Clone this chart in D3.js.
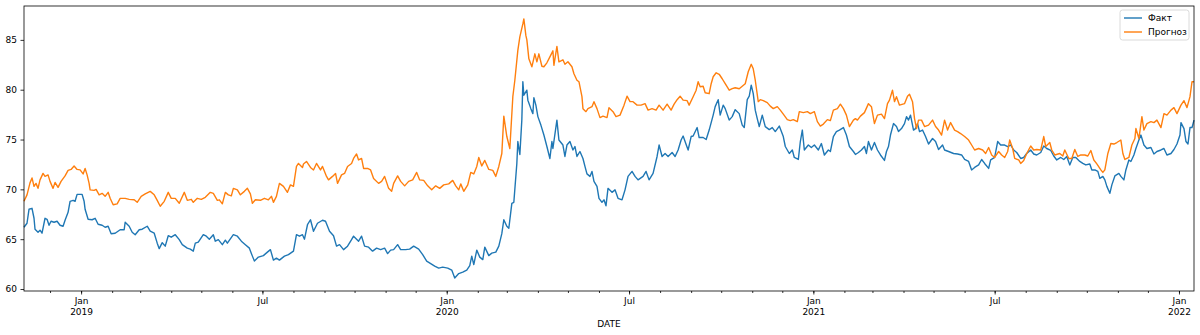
<!DOCTYPE html>
<html>
<head>
<meta charset="utf-8">
<style>
html, body { margin: 0; padding: 0; background: #fff; }
svg { display: block; font-family: "DejaVu Sans", sans-serif; }
</style>
</head>
<body>
<svg width="1200" height="335"></svg>
<script src="https://cdnjs.cloudflare.com/ajax/libs/d3/7.8.5/d3.min.js"></script>
<script>
// days are counted from the first date of the series
const startDate = "2018-11-05";
const lastDay = 1168;

const factDay = [0,3,5,8,10,11,14,16,18,21,23,25,27,30,33,36,39,41,44,46,49,51,53,58,60,61,64,68,71,74,78,81,84,87,91,96,100,101,105,108,111,115,118,123,126,130,133,135,138,141,144,147,151,155,158,163,166,169,171,174,179,182,185,189,191,194,198,201,203,209,213,217,221,225,228,230,234,239,243,246,249,252,255,260,264,269,272,275,278,280,283,286,289,293,298,301,305,309,312,315,319,323,327,329,331,334,337,340,344,348,352,356,360,363,366,369,373,376,381,385,389,394,398,402,406,410,414,418,423,427,430,434,438,442,445,447,449,452,455,458,460,464,467,471,474,477,479,482,484,487,489,492,493,495,497,498,499,502,503,506,508,509,511,513,516,519,522,525,527,528,532,534,538,540,542,545,548,550,552,555,558,560,562,565,567,569,572,574,577,579,581,583,587,590,593,597,600,603,607,610,613,618,621,624,628,632,634,637,640,643,647,650,653,656,658,661,663,666,668,672,674,678,681,684,688,690,693,695,698,700,704,707,710,714,717,719,722,724,726,728,730,732,734,737,740,744,747,750,754,758,760,764,767,769,773,775,777,779,783,786,789,793,796,799,803,805,808,811,814,818,821,824,828,830,833,836,839,841,843,846,849,852,855,859,861,863,865,868,871,873,876,879,881,883,885,888,890,892,894,897,900,903,907,910,913,917,919,923,928,932,936,939,943,946,949,953,956,959,963,965,969,972,975,979,982,985,988,991,995,998,1001,1005,1008,1011,1015,1018,1021,1025,1028,1031,1035,1038,1041,1044,1047,1050,1054,1057,1060,1064,1066,1069,1072,1074,1077,1079,1081,1084,1086,1089,1093,1095,1098,1100,1103,1105,1108,1110,1113,1115,1118,1121,1125,1128,1131,1135,1138,1141,1145,1148,1151,1154,1155,1158,1160,1162,1164,1166,1168];
const factValue = [66.2,66.6,68.0,68.1,67.1,66.0,65.7,65.9,65.6,67.1,67.0,66.4,66.8,66.7,66.8,66.4,66.3,66.9,67.7,68.8,68.9,68.8,69.5,69.5,68.8,68.0,67.0,66.95,67.1,66.5,66.4,66.2,66.3,65.55,65.6,65.95,65.95,66.7,66.3,65.7,65.45,65.95,66.0,66.3,65.8,65.6,64.6,64.05,64.65,64.3,65.35,65.2,65.45,64.95,64.45,64.1,64.0,63.8,64.6,64.7,65.45,65.3,65.0,65.45,64.8,64.95,64.45,64.9,64.6,65.45,65.3,64.8,64.45,64.1,63.3,62.8,63.2,63.35,63.7,63.95,62.9,63.1,62.9,63.3,63.45,63.8,65.45,65.3,65.45,65.0,66.45,66.95,65.8,66.6,66.9,66.8,65.8,65.35,64.3,64.45,63.95,64.3,64.95,65.3,65.1,64.8,65.3,64.3,64.2,63.8,64.1,63.95,64.1,63.55,63.9,63.95,64.45,63.95,63.95,64.0,64.3,64.0,63.45,62.8,62.55,62.3,62.1,62.2,62.1,61.9,61.1,61.55,61.7,61.9,62.35,63.3,62.45,63.9,63.2,62.95,64.2,63.35,63.6,63.7,64.3,65.55,66.95,66.3,66.1,68.6,68.7,72.6,74.8,73.5,77.0,80.8,79.45,79.95,78.95,78.1,77.6,79.2,78.45,77.3,76.45,75.45,74.3,73.1,74.8,74.1,76.95,74.95,74.45,73.3,74.45,74.8,73.95,74.3,73.3,73.8,73.1,72.3,71.55,71.3,71.8,70.8,70.3,69.1,68.7,68.95,68.35,70.1,69.7,69.95,69.1,68.95,69.95,71.3,71.8,71.3,70.95,71.3,71.8,70.95,71.6,73.3,74.45,73.3,73.6,73.3,73.7,73.3,73.95,74.95,75.35,74.5,73.95,75.3,75.35,76.2,75.2,75.2,75.0,75.95,77.45,78.3,79.0,77.45,78.45,78.1,76.95,77.3,78.0,77.6,76.45,76.2,79.0,79.35,80.45,79.6,77.95,77.1,76.3,77.45,76.3,76.0,76.2,75.8,76.35,75.3,74.3,73.6,73.95,73.2,73.0,74.8,75.95,73.95,74.45,74.2,74.45,73.95,74.6,73.45,73.95,73.8,75.3,75.8,75.95,76.2,75.45,74.3,73.8,73.5,73.7,73.95,74.3,73.6,74.8,73.95,74.7,73.95,73.45,72.9,73.8,74.3,75.45,76.6,76.3,75.8,76.1,76.6,77.3,76.95,77.45,75.95,76.1,76.6,75.8,75.95,75.3,74.55,75.1,74.8,74.0,74.45,73.95,73.8,73.6,73.55,73.45,73.0,72.8,71.95,72.2,72.45,73.0,72.6,72.1,72.95,73.2,74.8,74.45,74.45,74.3,74.45,73.95,73.7,73.1,73.2,73.6,73.95,73.55,73.45,73.7,74.35,74.1,73.9,73.35,72.95,73.2,73.0,73.3,72.45,73.2,73.2,72.8,72.6,72.45,72.55,71.95,71.95,71.8,71.1,71.3,70.95,70.3,69.6,70.45,71.35,71.6,71.3,70.95,71.95,72.95,72.8,73.45,74.1,74.95,75.45,74.45,74.1,74.2,73.55,73.8,73.95,74.1,73.45,73.6,74.0,74.55,75.45,76.7,76.1,74.8,74.55,76.2,76.2,76.95];

const forecastDay = [0,3,6,8,10,12,14,16,19,21,24,26,29,31,34,37,41,44,47,50,53,56,59,61,63,65,66,70,72,75,78,81,84,86,89,93,96,101,105,110,113,117,121,126,130,133,136,140,144,147,151,155,160,163,167,169,173,177,181,186,189,193,195,198,201,204,207,209,213,216,220,223,226,228,231,236,240,244,247,249,252,255,259,263,266,269,272,274,278,279,282,286,289,292,296,298,302,304,308,311,313,317,320,323,327,329,332,334,337,339,343,346,349,354,357,360,364,367,369,373,376,380,384,388,392,395,399,403,407,411,415,419,424,428,431,434,436,439,443,446,449,452,454,457,460,464,468,471,474,477,479,482,485,488,490,493,495,498,499,501,502,504,507,510,512,514,517,519,522,525,528,529,532,534,538,540,543,547,549,552,554,557,558,561,563,567,569,572,575,578,582,584,588,591,595,599,602,605,608,612,616,620,623,627,631,634,638,642,646,649,652,655,658,662,664,668,671,673,675,678,680,684,686,688,691,694,697,700,704,707,710,714,717,720,723,726,728,730,733,735,738,742,745,748,752,755,758,762,765,768,772,774,778,782,785,789,792,795,798,802,805,808,812,815,818,821,824,828,830,832,835,839,843,846,849,852,856,859,862,864,867,869,871,874,879,882,884,887,889,891,893,896,899,903,907,910,913,916,919,922,925,929,932,935,939,943,946,949,953,957,960,963,966,969,973,976,979,982,984,987,989,993,995,998,1001,1005,1008,1011,1015,1018,1020,1024,1026,1029,1034,1037,1039,1043,1046,1049,1052,1055,1059,1062,1065,1068,1071,1075,1077,1079,1082,1085,1088,1091,1095,1097,1099,1103,1106,1109,1110,1113,1116,1118,1121,1125,1128,1131,1135,1138,1141,1145,1148,1151,1155,1158,1161,1164,1166,1168];
const forecastValue = [68.8,69.45,70.65,71.15,70.3,70.6,70.1,70.95,71.6,71.3,71.45,70.8,70.1,70.7,70.2,70.8,71.35,71.9,72.0,72.35,72.0,71.95,71.55,72.1,71.45,70.6,69.95,69.9,70.0,69.45,69.6,69.3,69.7,69.1,68.45,68.55,69.1,69.1,69.0,68.95,68.7,69.3,69.55,69.8,69.45,68.9,68.3,68.8,69.7,69.1,69.1,68.6,69.7,68.9,69.0,68.7,69.1,69.0,69.2,69.7,69.6,68.9,68.95,68.55,69.7,69.45,69.35,70.1,69.95,69.45,69.8,70.1,69.55,68.6,68.95,68.9,69.1,68.95,69.3,68.7,69.3,70.6,70.3,69.7,70.45,70.3,72.3,72.6,72.2,72.55,72.8,72.2,71.95,72.6,71.95,72.3,71.3,70.95,71.3,71.6,70.6,71.45,71.6,72.3,72.6,73.1,73.55,72.95,73.1,72.1,72.1,71.95,71.1,70.6,70.8,71.3,70.1,69.8,70.6,71.35,70.8,70.35,70.8,70.95,71.7,70.95,70.9,70.35,69.95,70.35,70.1,70.45,70.55,70.9,70.35,69.95,70.55,69.8,70.45,71.7,71.55,72.3,73.2,72.35,72.9,72.0,71.9,71.3,72.3,73.6,77.35,75.3,74.1,79.3,80.95,83.95,85.3,86.6,87.1,85.45,85.0,83.1,82.3,83.6,82.8,83.6,82.35,82.3,82.7,83.3,83.9,82.45,84.35,82.8,83.0,82.55,82.8,82.3,81.6,80.95,80.8,79.3,78.1,77.8,78.1,78.3,78.8,78.1,77.2,77.35,77.2,78.2,77.8,77.3,77.45,78.45,79.35,78.8,78.8,78.45,78.45,78.6,77.95,78.1,77.95,78.45,77.95,78.55,77.95,78.55,79.0,79.35,78.95,78.9,78.45,79.3,79.95,80.8,80.3,80.35,79.7,79.6,80.6,81.3,81.7,81.55,81.1,80.6,79.95,80.1,80.2,80.1,80.35,80.6,81.8,82.55,82.1,80.95,78.8,79.0,78.9,78.7,78.35,78.1,78.3,77.95,77.55,77.0,76.9,77.0,76.8,77.8,77.7,77.8,77.6,77.8,76.8,76.35,76.55,77.0,76.9,77.95,78.1,78.55,78.1,77.45,76.3,76.95,77.1,76.95,77.35,77.7,78.6,78.3,76.6,77.45,77.55,77.1,78.6,78.95,79.95,78.8,79.3,78.45,78.6,79.35,79.55,78.8,77.1,76.1,76.95,76.95,76.3,76.45,76.95,76.3,75.95,75.45,76.95,75.95,76.7,75.95,75.8,75.6,75.3,74.95,74.45,73.95,74.1,73.95,73.6,74.2,73.45,73.2,73.8,73.45,73.2,73.8,74.95,74.1,73.1,72.95,72.6,72.9,73.6,74.35,73.95,74.0,73.95,75.3,74.3,74.7,73.95,73.45,73.6,73.35,73.95,73.1,73.1,74.0,73.3,73.45,73.45,73.35,73.9,72.95,72.55,71.95,71.7,71.95,73.6,74.6,74.55,74.7,74.95,73.6,73.0,73.2,74.45,75.1,76.1,75.1,77.3,75.95,76.6,76.8,76.7,76.95,76.2,77.6,77.45,77.95,78.2,77.6,78.45,78.9,78.2,79.3,80.8,80.8];

const seriesNames = ["Факт", "Прогноз"];
const seriesColors = ["#1f77b4", "#ff7f0e"];
const yTicks = [60, 65, 70, 75, 80, 85];
const xMajorTicks = ["2019-01-01", "2019-07-01", "2020-01-01", "2020-07-01", "2021-01-01", "2021-07-01", "2022-01-01"];
const xLabel = "DATE";

const width = 1200;
const margin = {top: 6, left: 24, right: 6, bottom: 44};
const height = 335;
const fontSize = 9;

const parse = d3.timeParse("%Y-%m-%d");
const start = parse(startDate);
const toSeries = (days, values) => days.map((d, i) => ({date: d3.timeDay.offset(start, d), value: values[i]}));
const series = [toSeries(factDay, factValue), toSeries(forecastDay, forecastValue)];

const svg = d3.select("svg");

const xScale = d3.scaleTime()
    .domain([start, d3.timeDay.offset(start, lastDay)])
    .range([margin.left, width - margin.right]);

// matplotlib style: 5% padding around the data range
const allValues = factValue.concat(forecastValue);
const [vMin, vMax] = d3.extent(allValues);
const pad = (vMax - vMin) * 0.05;
const yScale = d3.scaleLinear()
    .domain([vMin - pad, vMax + pad])
    .range([height - margin.bottom, margin.top]);

const line = d3.line()
    .x(d => xScale(d.date))
    .y(d => yScale(d.value));

svg.append("g")
    .selectAll("path")
    .data(series)
    .enter().append("path")
    .attr("d", line)
    .attr("fill", "none")
    .attr("stroke", (d, i) => seriesColors[i])
    .attr("stroke-width", 1.4)
    .attr("stroke-linejoin", "round");

// y axis
const yAxis = d3.axisLeft(yScale)
    .tickValues(yTicks)
    .tickSize(3.5)
    .tickPadding(3.5);
const yg = svg.append("g")
    .attr("transform", "translate(" + [margin.left, 0] + ")")
    .call(yAxis);

// x axis: monthly minor ticks, Jan/Jul major ticks
const minorTicks = d3.timeMonth.range(xScale.domain()[0], xScale.domain()[1]);
const xMinor = d3.axisBottom(xScale)
    .tickValues(minorTicks)
    .tickSize(2)
    .tickFormat("");
svg.append("g")
    .attr("transform", "translate(" + [0, height - margin.bottom] + ")")
    .call(xMinor);

const majorDates = xMajorTicks.map(parse);
const xAxis = d3.axisBottom(xScale)
    .tickValues(majorDates)
    .tickSize(3.5)
    .tickPadding(3.5)
    .tickFormat(d3.timeFormat("%b"));
const xg = svg.append("g")
    .attr("transform", "translate(" + [0, height - margin.bottom] + ")")
    .call(xAxis);

xg.selectAll(".tick text")
    .filter(d => d.getMonth() === 0)
    .append("tspan")
    .attr("x", 0)
    .attr("dy", "1.22em")
    .text(d => d.getFullYear());

[yg, xg].forEach(g => {
    g.select(".domain").remove();
    g.selectAll("text").attr("font-size", fontSize).attr("font-family", "DejaVu Sans").attr("fill", "#000");
    g.selectAll("line").attr("stroke", "#000").attr("stroke-width", 0.8);
});
svg.selectAll(".tick line").attr("stroke", "#000").attr("stroke-width", 0.8);
svg.selectAll(".domain").remove();

// frame
svg.append("rect")
    .attr("x", margin.left)
    .attr("y", margin.top)
    .attr("width", width - margin.left - margin.right)
    .attr("height", height - margin.top - margin.bottom)
    .attr("fill", "none")
    .attr("stroke", "#000")
    .attr("stroke-width", 0.8);

svg.append("text")
    .attr("x", (margin.left + width - margin.right) / 2)
    .attr("y", 326.5)
    .attr("text-anchor", "middle")
    .attr("font-size", fontSize)
    .text(xLabel);

// legend
const legendW = 69, legendH = 30;
const legend = svg.append("g")
    .attr("transform", "translate(" + [width - margin.right - 5 - legendW, margin.top + 4] + ")");
legend.append("rect")
    .attr("width", legendW)
    .attr("height", legendH)
    .attr("rx", 2.5)
    .attr("fill", "#fff")
    .attr("fill-opacity", 0.8)
    .attr("stroke", "#d0d0d0")
    .attr("stroke-width", 0.8);
const item = legend.selectAll("g.item")
    .data(seriesNames)
    .enter().append("g")
    .attr("class", "item")
    .attr("transform", (d, i) => "translate(0," + (8 + i * 14) + ")");
item.append("line")
    .attr("x1", 4).attr("x2", 22)
    .attr("stroke", (d, i) => seriesColors[i])
    .attr("stroke-width", 1.4);
item.append("text")
    .attr("x", 28)
    .attr("dy", "0.35em")
    .attr("font-size", fontSize)
    .text(d => d);
</script>
</body>
</html>
